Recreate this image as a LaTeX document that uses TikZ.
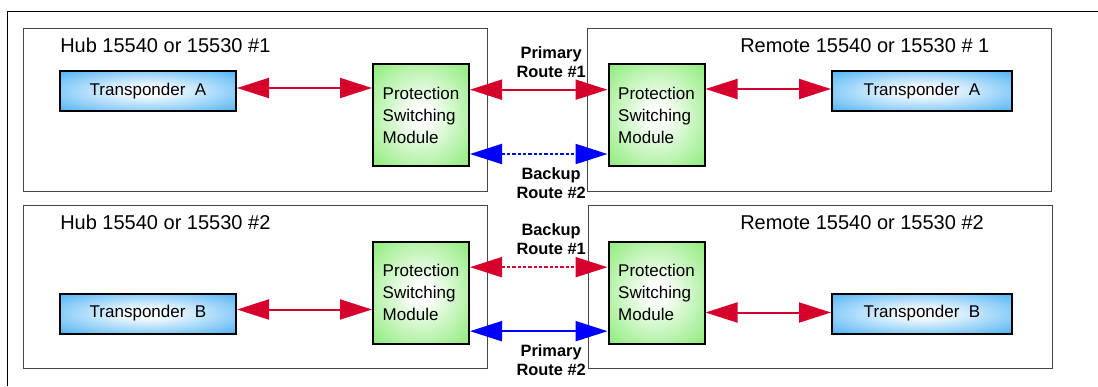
\documentclass[tikz,border=0pt]{standalone}
\usepackage{fontspec}
\setmainfont{Liberation Sans}
\usetikzlibrary{arrows.meta,positioning}

\definecolor{linkred}{RGB}{214,0,45}
\definecolor{linkblue}{RGB}{0,0,255}
\definecolor{tpblue}{RGB}{77,178,245}
\definecolor{psmgreen}{RGB}{140,235,120}
\definecolor{sitegray}{RGB}{70,70,70}

\pgfdeclareradialshading{tpshade}{\pgfpoint{0bp}{0bp}}{color(0bp)=(white); color(6bp)=(white!94!tpblue); color(36bp)=(tpblue); color(50bp)=(tpblue)}
\pgfdeclareradialshading{psmshade}{\pgfpoint{0bp}{0bp}}{color(0bp)=(white); color(6bp)=(white!94!psmgreen); color(36bp)=(psmgreen); color(50bp)=(psmgreen)}

\begin{document}
\begin{tikzpicture}[x=0.75pt,y=-0.75pt,>={Triangle[length=24pt,width=15pt]}]
        \tikzstyle{site}=[draw=sitegray, line width=0.75pt, minimum width=348pt, minimum height=122.25pt]
        \tikzstyle{title}=[font=\fontsize{15}{18}\selectfont, inner sep=0pt, anchor=base west]
        \tikzstyle{transponder}=[draw, line width=1.5pt, shading=tpshade, minimum height=30pt, font=\fontsize{12.75}{15}\selectfont]
        \tikzstyle{module}=[draw, line width=1.5pt, shading=psmshade, minimum width=72pt, minimum height=76.5pt, align=left, font=\fontsize{12.75}{16.5}\selectfont]
        \tikzstyle{route}=[text=black, font=\fontsize{12.3}{14.25}\selectfont\bfseries, align=center, inner sep=0pt, pos=0.59]
        \tikzstyle{spare}=[dash pattern=on 2.5pt off 1.5pt]

        \useasboundingbox (0,0) rectangle (1098,386);
        \draw[line width=0.75pt] (1098,11) -- (7,11) -- (7,386);

        % sites
        \node[site] (hubA) at (255.5,110)   {};
        \node[site] (remA) at (819,110)     {};
        \node[site] (hubB) at (255.5,286.5) {};
        \node[site] (remB) at (820,286.5)   {};

        \node[title] (tHubA) at (60,52)   {Hub 15540 or 15530 \#1};
        \node[title] (tRemA) at (740,52)  {Remote 15540 or 15530 \# 1};
        \node[title] (tHubB) at (60,229)  {Hub 15540 or 15530 \#2};
        \node[title] (tRemB) at (740,229) {Remote 15540 or 15530 \#2};

        % boxes
        \node[transponder, minimum width=132pt] (tpHubA) at (148,91)    {Transponder~~A};
        \node[module]                           (psmHubA) at (421,115)  {Protection\\Switching\\Module};
        \node[module]                           (psmRemA) at (656.5,115) {Protection\\Switching\\Module};
        \node[transponder, minimum width=135pt] (tpRemA) at (922,91)    {Transponder~~A};

        \node[transponder, minimum width=132pt] (tpHubB) at (148,313.5)  {Transponder~~B};
        \node[module]                           (psmHubB) at (421,292.5) {Protection\\Switching\\Module};
        \node[module]                           (psmRemB) at (656.5,292.5) {Protection\\Switching\\Module};
        \node[transponder, minimum width=135pt] (tpRemB) at (922,313.5)  {Transponder~~B};

        % link ends
        \coordinate (a1) at ([yshift=2.25pt]tpHubA.east);
        \coordinate (p1) at ([yshift=19pt]psmHubA.east);
        \coordinate (b2) at ([yshift=-29.25pt]psmHubA.east);
        \coordinate (a2) at ([yshift=1.5pt]tpRemA.west);
        \coordinate (bb) at ([yshift=3pt]tpHubB.east);
        \coordinate (b1) at ([yshift=19pt]psmHubB.east);
        \coordinate (p2) at ([yshift=-29pt]psmHubB.east);
        \coordinate (bc) at ([yshift=0.75pt]tpRemB.west);

        \path[<->, line width=1.5pt]
            (a1) edge [linkred]        (a1 -| psmHubA.west)
            (p1) edge [linkred]        node [route, above=8.5pt] {Primary\\Route \#1} (p1 -| psmRemA.west)
            (b2) edge [linkblue, spare] node [route, below=9.5pt] {Backup\\Route \#2}  (b2 -| psmRemA.west)
            (a2) edge [linkred]        (a2 -| psmRemA.east)

            (bb) edge [linkred]        (bb -| psmHubB.west)
            (b1) edge [linkred, spare] node [route, above=8.5pt] {Backup\\Route \#1}  (b1 -| psmRemB.west)
            (p2) edge [linkblue]       node [route, below=9.5pt] {Primary\\Route \#2} (p2 -| psmRemB.west)
            (bc) edge [linkred]        (bc -| psmRemB.east)
        ;
\end{tikzpicture}
\end{document}
